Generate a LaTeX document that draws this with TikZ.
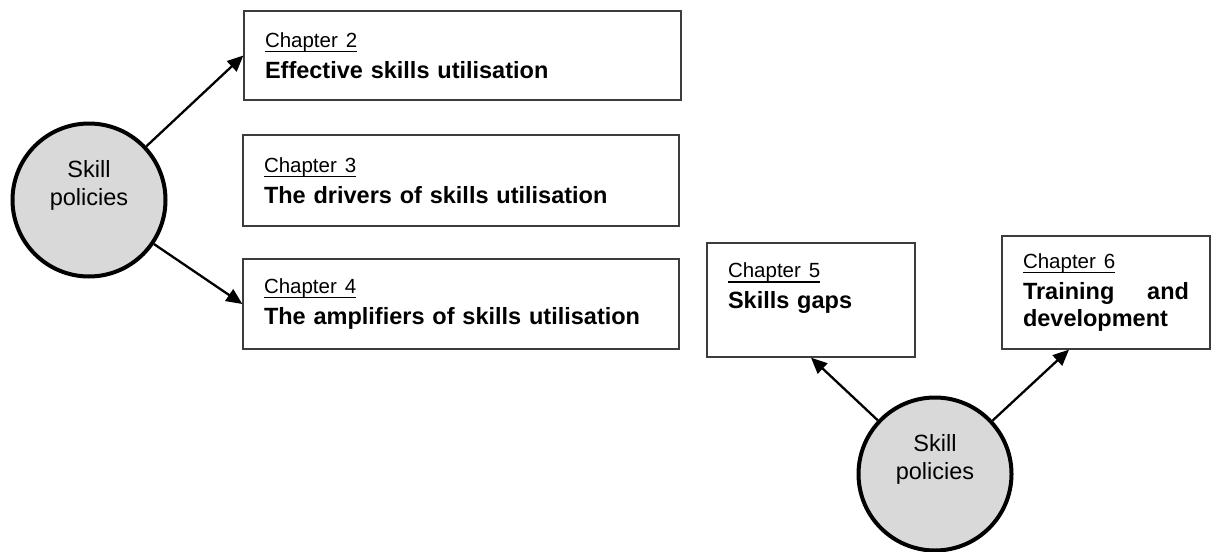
\documentclass[tikz,border=0pt]{standalone}
\usepackage{fontspec}
\setmainfont{Liberation Sans}
\definecolor{policygrey}{RGB}{217, 217, 217}
\definecolor{boxline}{RGB}{60, 60, 60}
\usepackage{tikz}
\usepackage{xcolor}
\usetikzlibrary{arrows.meta,positioning}
\newcommand{\chapno}[1]{{\fontsize{20.5}{24}\selectfont\setbox0\hbox{Chapter #1}\rlap{\rule[-4.8pt]{\wd0}{1.5pt}}\box0}}
\newcommand{\chaptitle}[1]{\textbf{#1}}

\begin{document}
\begin{tikzpicture}[x=1pt, y=-1pt,
        chapbox/.style={draw=boxline, line width=1.3pt, fill=white, inner xsep=21pt, inner ysep=0pt, align=left, font=\fontsize{23.5}{27}\selectfont},
        policy/.style={circle, draw=black, line width=4pt, fill=policygrey, minimum size=153pt, inner sep=0pt},
        policytext/.style={align=center, inner sep=0pt, font=\fontsize{23.5}{28}\selectfont},
        link/.style={line width=2.3pt, -{Triangle[length=16pt, width=14pt]}}]
                \useasboundingbox (0,0) rectangle (1217,551);
                % first group
                \node[policy] (pol1) at (89,200) {};
                \node[policytext] (pol1txt) at ([yshift=15pt]pol1.center) {Skill\\policies};
                \node[chapbox, text width=395pt, minimum height=89pt] (ch2) at (462.5,55.5) {\chapno{2}\\[4pt]\chaptitle{Effective skills utilisation}};
                \node[chapbox, text width=394pt, minimum height=91pt] (ch3) at (461,180.5) {\chapno{3}\\[4pt]\chaptitle{The drivers of skills utilisation}};
                \node[chapbox, text width=394pt, minimum height=90pt] (ch4) at (461,304) {\chapno{4}\\[4pt]\chaptitle{The amplifiers of skills utilisation}};
                \draw[link] (pol1) -- (ch2.west);
                \draw[link] (pol1) -- (ch4.west);
                % second group
                \node[policy] (pol2) at (935,474) {};
                \node[policytext] (pol2txt) at ([yshift=15pt]pol2.center) {Skill\\policies};
                \node[chapbox, text width=166pt, minimum height=114pt] (ch5) at (811,300) {\chapno{5}\\[4pt]\chaptitle{Skills gaps}\\[1pt]\mbox{}};
                \node[chapbox, text width=166pt, minimum height=113pt] (ch6) at (1106,292.5) {\chapno{6}\\[4pt]\chaptitle{Training\hfill and}\\\chaptitle{development}};
                \draw[link] (pol2) -- (ch5.south);
                \draw[link] (pol2) -- ([xshift=-37pt]ch6.south);
            \end{tikzpicture}
\end{document}
